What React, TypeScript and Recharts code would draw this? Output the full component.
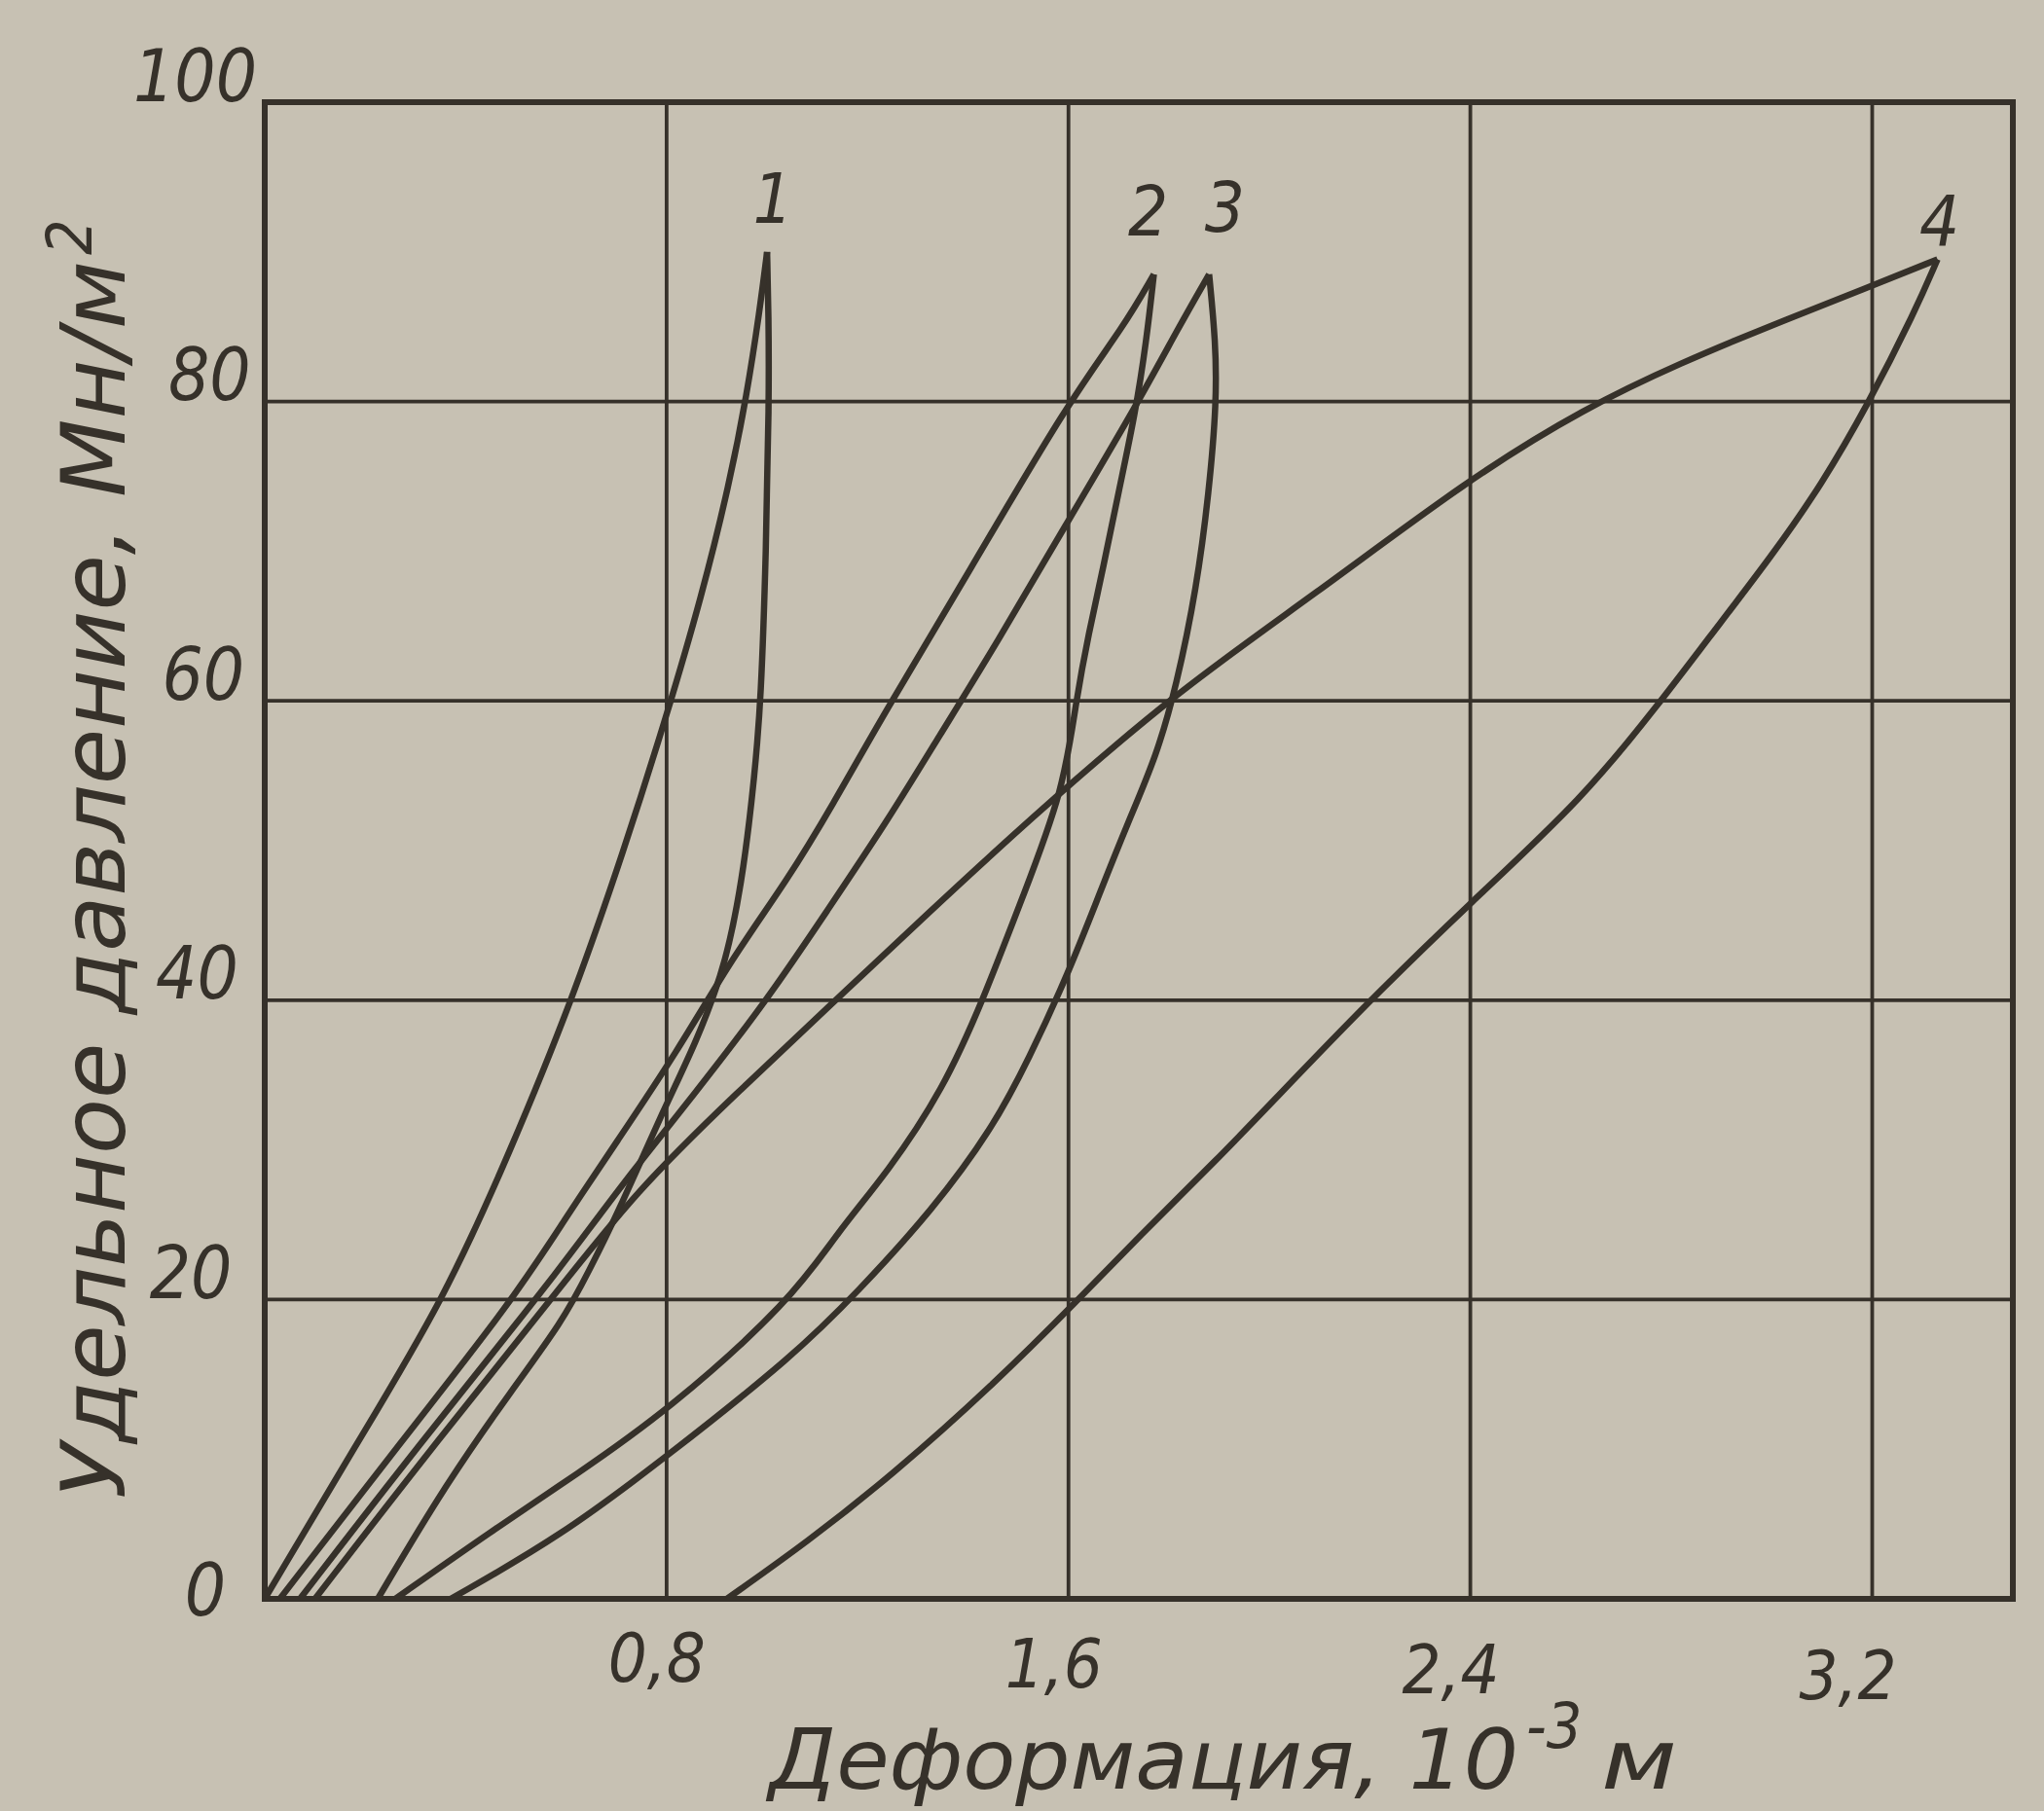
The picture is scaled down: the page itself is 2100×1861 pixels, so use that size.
import React from 'react';
import { LineChart, Line, XAxis, YAxis, CartesianGrid, ReferenceArea, Label } from 'recharts';

type P = [number, number];

// ---- axes ----
const xTicks = [0.8, 1.6, 2.4, 3.2];
const xTickText = ['0,8', '1,6', '2,4', '3,2'];
const yTicks = [0, 20, 40, 60, 80, 100];
const xMax = 3.48;
const yMax = 100;
const xTitle = 'Деформация, 10';
const xTitleExp = '-3';
const xTitleUnit = 'м';
const yTitle = 'Удельное давление, Мн/м';
const yTitleExp = '2';

// ---- curves (deformation 10^-3 m, pressure MN/m2), ordered by rising pressure ----
const load1: P[] = [[0, 0], [0.18, 10.2], [0.357, 20], [0.49, 30], [0.612, 40], [0.715, 50], [0.8, 59], [0.87, 67], [0.925, 74.5], [0.96, 80.5], [0.985, 86], [1.0, 90]];
const unload1: P[] = [[0.225, 0], [0.357, 7.5], [0.495, 14.1], [0.592, 18.5], [0.644, 21.8], [0.709, 26.2], [0.794, 32.7], [0.858, 37.1], [0.92, 42.5], [0.955, 49], [0.975, 55], [0.988, 60], [0.998, 70], [1.004, 80], [1.003, 86], [1.0, 90]];
const load2: P[] = [[0.03, 0], [0.26, 10], [0.495, 20], [0.6, 25.5], [0.7, 30.5], [0.82, 36.5], [0.93, 42.8], [1.04, 48], [1.13, 53], [1.23, 59], [1.4, 68.5], [1.6, 80], [1.71, 85], [1.77, 88.5]];
const unload2: P[] = [[0.26, 0], [0.45, 4.5], [0.62, 8.3], [0.8, 12.5], [1.05, 20], [1.14, 24.5], [1.24, 28.5], [1.35, 34], [1.43, 40], [1.51, 47], [1.59, 54], [1.615, 60], [1.64, 64.5], [1.67, 69], [1.7, 74], [1.733, 79.2], [1.755, 84], [1.77, 88.5]];
const load3: P[] = [[0.07, 0], [0.3, 10], [0.54, 20], [0.63, 24], [0.73, 28.5], [0.85, 33.5], [1.0, 40], [1.12, 46], [1.24, 52], [1.34, 57.5], [1.46, 64], [1.59, 71.5], [1.74, 80], [1.82, 85], [1.88, 88.5]];
const unload3: P[] = [[0.37, 0], [0.59, 4.2], [0.8, 9.5], [1.055, 16.3], [1.18, 20.5], [1.33, 26], [1.45, 31.5], [1.52, 36], [1.6, 41.8], [1.665, 47.4], [1.72, 52], [1.775, 56.3], [1.815, 61], [1.855, 67.5], [1.88, 74], [1.895, 80], [1.893, 84], [1.88, 88.5]];
const load4: P[] = [[0.1, 0], [0.33, 10], [0.57, 20], [0.74, 27.3], [0.94, 33.8], [1.13, 39.8], [1.32, 45.8], [1.51, 51.7], [1.81, 60.5], [2.09, 67.1], [2.4, 74.9], [2.63, 79.6], [2.82, 82.6], [3.0, 85.1], [3.19, 87.6], [3.33, 89.5]];
const unload4: P[] = [[0.92, 0], [1.08, 3.8], [1.25, 8.3], [1.45, 14.3], [1.62, 20], [1.74, 24.2], [1.9, 29.5], [2.0, 33], [2.2, 40], [2.4, 46.5], [2.625, 53.5], [2.78, 60], [2.87, 64], [3.005, 69.9], [3.1, 74.5], [3.19, 79.7], [3.285, 86], [3.33, 89.5]];
const curveNames = ['1', '2', '3', '4'];

// ---- look ----
const INK = '#36312a';
const PAPER = '#c7c1b3';
const FONT = "'DejaVu Sans Condensed', 'DejaVu Sans', 'Liberation Sans', sans-serif";
const W = 2100;
const H = 1861;
const Y_AXIS_W = 272;
const X_AXIS_H = 218;
const labelOffsets: P[] = [[6, -30], [-6, -40], [16, -44], [2, -14]];

const loads = [load1, load2, load3, load4];
const unloads = [unload1, unload2, unload3, unload4];
const toRows = (pts: P[]) => pts.map(([x, y]) => ({ x, y }));

function YTick(props: any) {
  const { x, y, payload } = props;
  const v = Number(payload.value);
  const dy = v === 0 ? -10 : -28;
  return (
    <text x={x - 20 + 0.32 * v} y={y + dy} dy="0.36em" textAnchor="end" fontFamily={FONT}
      fontStyle="italic" fontSize={74} fill={INK}>{String(v)}</text>
  );
}

function XTick(props: any) {
  const { x, y, payload } = props;
  const i = xTicks.indexOf(Number(payload.value));
  return (
    <text x={x - 10 - 5 * i} y={y + 60 + 6 * i} dy="0.36em" textAnchor="middle" fontFamily={FONT}
      fontStyle="italic" fontSize={70} fill={INK}>{xTickText[i] ?? ''}</text>
  );
}

function XTitle() {
  return (
    <g fontFamily={FONT} fontStyle="italic" fill={INK}>
      <text x={790} y={1838} fontSize={86} textLength={770} lengthAdjust="spacingAndGlyphs">{xTitle}</text>
      <text x={1568} y={1796} fontSize={64}>{xTitleExp}</text>
      <text x={1645} y={1838} fontSize={86} textLength={78} lengthAdjust="spacingAndGlyphs">{xTitleUnit}</text>
    </g>
  );
}

function YTitle() {
  return (
    <g fontFamily={FONT} fontStyle="italic" fill={INK}>
      <text x={128} y={1540} transform="rotate(-90 128 1540)" fontSize={90} textLength={1272}
        lengthAdjust="spacingAndGlyphs">{yTitle}</text>
      <text x={94} y={262} transform="rotate(-90 94 262)" fontSize={64}>{yTitleExp}</text>
    </g>
  );
}

function peakLabel(k: number) {
  const last = loads[k].length - 1;
  return (p: any) => {
    if (p.index !== last) return null;
    return (
      <text key={'pl' + k} x={p.x + labelOffsets[k][0]} y={p.y + labelOffsets[k][1]} textAnchor="middle"
        fontFamily={FONT} fontStyle="italic" fontSize={72} fill={INK}>{curveNames[k]}</text>
    );
  };
}

export default function App() {
  return (
    <div style={{ position: 'absolute', left: 0, top: 0, width: W, height: H, background: PAPER, overflow: 'hidden' }}>
      <LineChart width={W} height={H} margin={{ top: 105, right: 32, left: 0, bottom: 0 }}>
        <CartesianGrid stroke={INK} strokeWidth={3.8} />
        <XAxis type="number" dataKey="x" domain={[0, xMax]} ticks={xTicks} interval={0} allowDataOverflow
          axisLine={false} tickLine={false} tickSize={0} tickMargin={0} height={X_AXIS_H} tick={(p: any) => <XTick {...p} />}>
          <Label content={() => <XTitle />} />
        </XAxis>
        <YAxis type="number" domain={[0, yMax]} ticks={yTicks} interval={0} allowDataOverflow
          axisLine={false} tickLine={false} tickSize={0} tickMargin={20} width={Y_AXIS_W} tick={(p: any) => <YTick {...p} />}>
          <Label content={() => <YTitle />} />
        </YAxis>
        <ReferenceArea x1={0} x2={xMax} y1={0} y2={yMax} fill="none" fillOpacity={0} stroke={INK} strokeWidth={6} ifOverflow="visible" />
        {unloads.map((u, k) => (
          <Line key={'u' + k} data={toRows(u)} dataKey="y" type="basis" stroke={INK} strokeWidth={6.5}
            dot={false} activeDot={false} isAnimationActive={false} legendType="none" />
        ))}
        {loads.map((l, k) => (
          <Line key={'l' + k} data={toRows(l)} dataKey="y" type="basis" stroke={INK} strokeWidth={6.5}
            dot={false} activeDot={false} isAnimationActive={false} legendType="none" label={peakLabel(k)} />
        ))}
      </LineChart>
    </div>
  );
}
